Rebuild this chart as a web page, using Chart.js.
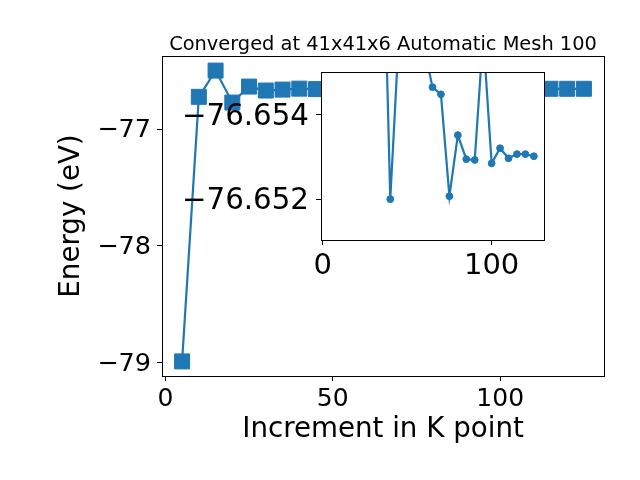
<!DOCTYPE html>
<html><head><meta charset="utf-8">
<script src="https://cdn.jsdelivr.net/npm/chart.js@4"></script>
<style>
html,body{margin:0;padding:0;background:#fff;}
#wrap{position:relative;width:640px;height:480px;overflow:hidden;}
canvas{position:absolute;left:0;top:0;}
</style></head><body>
<div id="wrap"><canvas id="main" width="640" height="480"></canvas><canvas id="inset" width="640" height="480"></canvas></div>
<script>
const kPoints = [5, 10, 15, 20, 25, 30, 35, 40, 45, 50, 55, 60, 65, 70, 75, 80, 85, 90, 95, 100, 105, 110, 115, 120, 125];
const energies = [-78.99, -76.722, -76.497, -76.771, -76.634, -76.668, -76.6599, -76.652, -76.6558, -76.6562,
  -76.6560, -76.6556, -76.65466, -76.65449, -76.65207, -76.65352, -76.65295, -76.65293, -76.6559, -76.65285,
  -76.65321, -76.65297, -76.65307, -76.65307, -76.65302];
const insetStartK = 35;
const mainXTicks = [0, 50, 100];
const mainYTicks = [-79, -78, -77];
const insetXTicks = [0, 100];
const insetYTicks = [-76.654, -76.652];
const titleText = 'Converged at 41x41x6 Automatic Mesh 100';
const xLabel = 'Increment in K point';
const yLabel = 'Energy (eV)';

const FONT = 'DejaVu Sans';
const BLUE = '#1f77b4';
const points = kPoints.map((k, i) => ({x: k, y: energies[i]}));
const insetPoints = points.filter(p => p.x >= insetStartK);

function fmtInt(v) { return String(Math.round(v)).replace('-', '\u2212'); }
function fmt3(v) { return v.toFixed(3).replace('-', '\u2212'); }

const axisCommon = (size, pad, cb, lo) => ({
  grid: {display: true, drawOnChartArea: false, drawTicks: true, tickLength: 5, color: '#000', lineWidth: 1},
  border: {display: true, color: '#000', width: 1},
  ticks: {font: {family: FONT, size: size}, color: '#000', padding: pad, maxRotation: 0, autoSkip: false, labelOffset: lo || 0, callback: cb}
});

const framePlugin = (fillWhite) => ({
  id: 'frame',
  beforeDraw(chart) {
    if (!fillWhite) return;
    const a = chart.chartArea, ctx = chart.ctx;
    ctx.save(); ctx.fillStyle = '#fff';
    ctx.fillRect(a.left, a.top, a.right - a.left, a.bottom - a.top);
    ctx.restore();
  },
  afterDraw(chart) {
    const a = chart.chartArea, ctx = chart.ctx;
    ctx.save(); ctx.strokeStyle = '#000'; ctx.lineWidth = 1;
    ctx.strokeRect(Math.round(a.left) + 0.5, Math.round(a.top) + 0.5, Math.round(a.right - a.left), Math.round(a.bottom - a.top));
    ctx.restore();
  }
});

const titlePlugin = {
  id: 'mtitle',
  afterDraw(chart) {
    const a = chart.chartArea, ctx = chart.ctx;
    ctx.save();
    ctx.font = '19.4px "' + FONT + '"';
    ctx.fillStyle = '#000'; ctx.textAlign = 'center'; ctx.textBaseline = 'alphabetic';
    ctx.fillText(titleText, (a.left + a.right) / 2, 50);
    ctx.restore();
  }
};

const mx = axisCommon(25, 3, v => fmtInt(v));
const my = axisCommon(25.5, 6, v => fmtInt(v), 1.5);

new Chart(document.getElementById('main'), {
  type: 'line',
  data: {datasets: [{data: points, borderColor: BLUE, backgroundColor: BLUE, borderWidth: 2.2,
    pointStyle: 'rect', pointRadius: 10.6, pointBorderWidth: 1, pointBorderColor: BLUE, pointBackgroundColor: BLUE, tension: 0}]},
  options: {
    responsive: false, animation: false, devicePixelRatio: 1, events: [],
    layout: {padding: {top: 56, right: 36, left: 0, bottom: 0}},
    plugins: {legend: {display: false}, tooltip: {enabled: false}},
    scales: {
      x: Object.assign({type: 'linear', min: -1, max: 131,
        afterFit: s => { s.height = 104; },
        afterBuildTicks: s => { s.ticks = mainXTicks.map(v => ({value: v})); },
        title: {display: true, text: xLabel, color: '#000', font: {family: FONT, size: 27.7, lineHeight: 1}, padding: {top: 0, bottom: 36}}
      }, mx),
      y: Object.assign({type: 'linear', min: -79.115, max: -76.372,
        afterFit: s => { s.width = 162; },
        afterBuildTicks: s => { s.ticks = mainYTicks.map(v => ({value: v})); },
        title: {display: true, text: yLabel, color: '#000', font: {family: FONT, size: 27.7, lineHeight: 1}, padding: {top: 58, bottom: 0}}
      }, my)
    }
  },
  plugins: [framePlugin(false), titlePlugin]
});

const ix = axisCommon(29, 4, v => fmtInt(v));
const iy = axisCommon(29.3, 7, v => fmt3(v), 2.5);

new Chart(document.getElementById('inset'), {
  type: 'line',
  data: {datasets: [{data: insetPoints, borderColor: BLUE, backgroundColor: BLUE, borderWidth: 2.2,
    pointStyle: 'circle', pointRadius: 3.4, pointBorderWidth: 1, pointBorderColor: BLUE, pointBackgroundColor: BLUE, tension: 0}]},
  options: {
    responsive: false, animation: false, devicePixelRatio: 1, events: [],
    layout: {padding: {top: 72, right: 96, left: 0, bottom: 0}},
    plugins: {legend: {display: false}, tooltip: {enabled: false}},
    scales: {
      x: Object.assign({type: 'linear', min: -1, max: 131,
        afterFit: s => { s.height = 240; },
        afterBuildTicks: s => { s.ticks = insetXTicks.map(v => ({value: v})); }
      }, ix),
      y: Object.assign({type: 'linear', reverse: true, min: -76.65502, max: -76.65103,
        afterFit: s => { s.width = 321; },
        afterBuildTicks: s => { s.ticks = insetYTicks.map(v => ({value: v})); }
      }, iy)
    }
  },
  plugins: [framePlugin(true)]
});
</script>
</body></html>
